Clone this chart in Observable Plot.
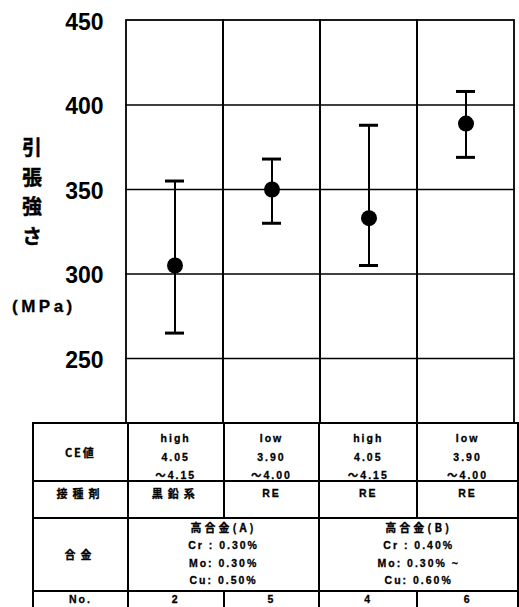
<!DOCTYPE html>
<html>
<head>
<meta charset="utf-8">
<script src="https://cdn.jsdelivr.net/npm/d3@7"></script>
<script src="https://cdn.jsdelivr.net/npm/@observablehq/plot@0.6"></script>
<style>
  body { margin: 0; background: #fff; }
  #wrap { position: relative; width: 519px; height: 607px; overflow: hidden; }
  #chart { position: absolute; left: 0; top: 0; }
  #ylab { position: absolute; left: 21px; top: 132px; font-family: "Noto Sans CJK JP", sans-serif; font-weight: bold; font-size: 20px; line-height: 29.5px; text-align: center; width: 22px; -webkit-text-stroke: 0.4px #000; }
  #yunit { position: absolute; left: 12px; top: 297px; font-family: "Liberation Sans", Arial, sans-serif; font-weight: bold; font-size: 17px; letter-spacing: 3.5px; white-space: nowrap; -webkit-text-stroke: 0.3px #000; }
  table { position: absolute; left: 32px; top: 422px; border-collapse: collapse; table-layout: fixed; font-family: "Liberation Sans", Arial, "Noto Sans CJK JP", sans-serif; font-weight: bold; font-size: 10.5px; letter-spacing: 2px; -webkit-text-stroke: 0.3px #000; }
  td { border: 2px solid #000; text-align: center; padding: 0; vertical-align: middle; overflow: hidden; }
  .cjk { font-family: "Noto Sans CJK JP", sans-serif; font-size: 11px; letter-spacing: 5px; }
  .l { line-height: 18.5px; position: relative; top: 5px; }
  .m { line-height: 17.5px; }
  .t { position: relative; top: -6px; }
</style>
</head>
<body>
<div id="wrap">
  <div id="chart"></div>
  <div id="ylab"></div>
  <div id="yunit"></div>
  <table id="tbl"></table>
</div>
<script>
// ---- data ----
const nos = ["2", "5", "4", "6"];
const means = [305, 350, 333, 389];
const lows = [265, 330, 305, 369];
const highs = [355, 368, 388, 408];
const yTicks = [250, 300, 350, 400, 450];
const yGrid = [250, 300, 350, 400];
const yDomain = [211.5, 450];
const yLabel = ["引", "張", "強", "さ"];
const yUnit = "(MPa)";
const rowLabels = ["CE値", "接種剤", "合金", "No."];
const ceLevel = ["high", "low", "high", "low"];
const ceFrom = ["4.05", "3.90", "4.05", "3.90"];
const ceTo = ["～4.15", "～4.00", "～4.15", "～4.00"];
const inoculant = ["黒鉛系", "RE", "RE", "RE"];
const alloyNames = ["高合金(A)", "高合金(B)"];
const alloyCompA = ["Cr : 0.30%", "Mo: 0.30%", "Cu: 0.50%"];
const alloyCompB = ["Cr : 0.40%", "Mo: 0.30% ~", "Cu: 0.60%"];

const data = nos.map((no, i) => ({no, mean: means[i], low: lows[i], high: highs[i]}));

const chart = Plot.plot({
  width: 519,
  height: 423,
  marginLeft: 125,
  marginRight: 4,
  marginTop: 20,
  marginBottom: 0,
  x: {domain: nos, padding: 0, axis: null},
  y: {domain: yDomain, axis: null},
  marks: [
    Plot.ruleY(yGrid, {stroke: "#000", strokeWidth: 1.6}),
    Plot.barY(nos, {x: d => d, y1: yDomain[0], y2: yDomain[1], fill: "none", stroke: "#000", strokeWidth: 1.8}),
    Plot.axisY({ticks: yTicks, tickSize: 0, tickPadding: 22, label: null, fontSize: 23, fontWeight: "bold", fontFamily: "Liberation Sans, Arial, sans-serif", fill: "#000", stroke: "#000", strokeWidth: 0.6, dy: 2}),
    Plot.ruleX(data, {x: "no", y1: "low", y2: "high", stroke: "#000", strokeWidth: 2}),
    Plot.tickY(data, {x: "no", y: "low", stroke: "#000", strokeWidth: 3, insetLeft: 39, insetRight: 39}),
    Plot.tickY(data, {x: "no", y: "high", stroke: "#000", strokeWidth: 3, insetLeft: 39, insetRight: 39}),
    Plot.dot(data, {x: "no", y: "mean", r: 8, fill: "#000", stroke: "none"})
  ]
});
document.getElementById("chart").appendChild(chart);

document.getElementById("ylab").innerHTML = yLabel.join("<br>");
document.getElementById("yunit").textContent = yUnit;

// ---- table ----
const colW = [95, 96, 96, 98, 101];
const tbl = document.getElementById("tbl");
let html = "<colgroup>" + colW.map(w => `<col style="width:${w}px">`).join("") + "</colgroup>";
html += `<tr style="height:57px"><td class="cjk" style="letter-spacing:2px">${rowLabels[0]}</td>` +
  nos.map((_, i) => `<td><div class="l">${ceLevel[i]}<br>${ceFrom[i]}<br>${ceTo[i]}</div></td>`).join("") + "</tr>";
html += `<tr style="height:37px"><td class="cjk"><div class="t">${rowLabels[1]}</div></td>` +
  inoculant.map(s => `<td ${/[^\x00-\x7f]/.test(s) ? 'class="cjk"' : ''}><div class="t">${s}</div></td>`).join("") + "</tr>";
html += `<tr style="height:71px"><td class="cjk">${rowLabels[2]}</td>` +
  `<td colspan="2" class="m"><span class="cjk" style="letter-spacing:3px">${alloyNames[0]}</span><br>${alloyCompA.join("<br>")}</td>` +
  `<td colspan="2" class="m"><span class="cjk" style="letter-spacing:3px">${alloyNames[1]}</span><br>${alloyCompB.join("<br>")}</td></tr>`;
html += `<tr style="height:17px"><td>${rowLabels[3]}</td>` + nos.map(n => `<td>${n}</td>`).join("") + "</tr>";
tbl.innerHTML = html;
</script>
</body>
</html>
